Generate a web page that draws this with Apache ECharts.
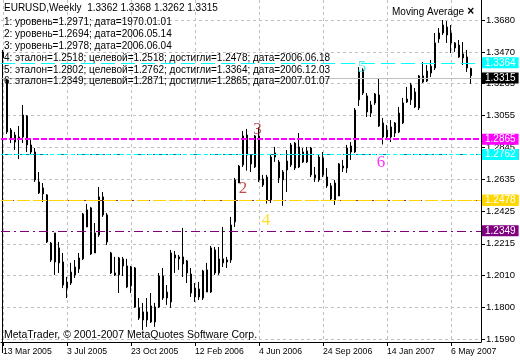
<!DOCTYPE html>
<html><head><meta charset="utf-8">
<script src="https://cdn.jsdelivr.net/npm/echarts@6/dist/echarts.min.js"></script>
<style>html,body{margin:0;padding:0;background:#fff}#c{width:520px;height:360px}</style>
</head><body><div id="c"></div>
<script>
// Weekly EURUSD bars, index 0 = week of 13 Mar 2005
const opens = [
1.3471,1.3287,1.2960,1.2881,1.2914,1.2914,1.3052,1.2862,1.2816,1.2620,
1.2541,1.2535,1.2220,1.2096,1.2188,1.2096,1.1925,1.1958,1.2011,1.2050,
1.2116,1.2325,1.2450,1.2155,1.2273,1.2522,1.2404,1.2155,1.2024,1.2011,
1.2116,1.2070,1.1939,1.2057,1.1795,1.1716,1.1769,1.1703,1.1703,1.1801,
1.2004,1.1899,1.1834,1.2142,1.2129,1.2129,1.2103,1.2017,1.1925,1.1919,
1.1860,1.2044,1.1899,1.2175,1.2024,1.2090,1.2109,1.2109,1.2358,1.2613,
1.2731,1.2927,1.2796,1.2718,1.2921,1.2600,1.2652,1.2502,1.2783,1.2751,
1.2633,1.2698,1.2862,1.2875,1.2849,1.2816,1.2751,1.2842,1.2666,1.2783,
1.2777,1.2652,1.2594,1.2502,1.2528,1.2724,1.2711,1.2855,1.2816,1.3157,
1.3353,1.3183,1.3071,1.3137,1.3189,1.3006,1.2914,1.2914,1.2940,1.2947,
1.3006,1.3143,1.3157,1.3209,1.3104,1.3314,1.3281,1.3333,1.3366,1.3556,
1.3595,1.3634,1.3595,1.3530,1.3516,1.3458,1.3438,1.3362];
const closes = [
1.3432,1.2947,1.2901,1.2927,1.2901,1.3058,1.2862,1.2816,1.2633,1.2548,
1.2581,1.2227,1.2109,1.2286,1.2090,1.1945,1.1965,1.2030,1.2063,1.2122,
1.2410,1.2437,1.2148,1.2286,1.2522,1.2404,1.2227,1.2024,1.2011,1.2122,
1.2070,1.1932,1.2063,1.1801,1.1729,1.1769,1.1716,1.1808,1.1801,1.2004,
1.1860,1.1860,1.2155,1.2122,1.2116,1.2083,1.2024,1.1893,1.1867,1.1867,
1.2037,1.1899,1.2188,1.2024,1.2116,1.2116,1.2096,1.2338,1.2633,1.2724,
1.2921,1.2796,1.2738,1.2921,1.2633,1.2639,1.2502,1.2783,1.2810,1.2646,
1.2685,1.2757,1.2731,1.2711,1.2718,1.2751,1.2823,1.2666,1.2646,1.2633,
1.2666,1.2594,1.2508,1.2613,1.2738,1.2711,1.2842,1.2816,1.3091,1.3340,
1.3202,1.3078,1.3124,1.3196,1.2986,1.2914,1.2960,1.2980,1.3006,1.3071,
1.3137,1.3163,1.3255,1.3111,1.3314,1.3274,1.3346,1.3378,1.3530,1.3595,
1.3647,1.3582,1.3530,1.3497,1.3438,1.3432,1.3366,1.3315];
const highs = [
1.3484,1.3300,1.2973,1.2947,1.2986,1.3124,1.3058,1.2895,1.2842,1.2685,
1.2613,1.2541,1.2227,1.2286,1.2227,1.2155,1.1998,1.2090,1.2109,1.2155,
1.2417,1.2476,1.2456,1.2351,1.2587,1.2554,1.2417,1.2162,1.2129,1.2129,
1.2129,1.2116,1.2070,1.2063,1.1860,1.1828,1.1860,1.1893,1.1828,1.2024,
1.2057,1.1945,1.2175,1.2168,1.2142,1.2319,1.2109,1.2057,1.1958,1.1965,
1.2044,1.2090,1.2201,1.2194,1.2194,1.2325,1.2129,1.2391,1.2646,1.2731,
1.2953,1.2967,1.2796,1.2927,1.2978,1.2666,1.2666,1.2796,1.2849,1.2764,
1.2698,1.2829,1.2875,1.2881,1.2940,1.2842,1.2849,1.2849,1.2718,1.2796,
1.2816,1.2711,1.2613,1.2633,1.2744,1.2764,1.2862,1.2881,1.3104,1.3372,
1.3364,1.3202,1.3150,1.3202,1.3300,1.3039,1.2993,1.3025,1.3012,1.3111,
1.3170,1.3242,1.3268,1.3235,1.3320,1.3405,1.3385,1.3418,1.3595,1.3628,
1.3680,1.3673,1.3647,1.3536,1.3549,1.3536,1.3484,1.3368];
const lows = [
1.1500,1.2934,1.2875,1.2829,1.2770,1.2875,1.2816,1.2796,1.2620,1.2541,
1.2489,1.2220,1.2096,1.2011,1.2024,1.1925,1.1860,1.1945,1.1991,1.2024,
1.2109,1.2325,1.2142,1.2155,1.2260,1.2391,1.2207,1.2017,1.2004,1.1893,
1.2004,1.1925,1.1893,1.1795,1.1716,1.1651,1.1671,1.1697,1.1671,1.1795,
1.1847,1.1815,1.1795,1.2024,1.2044,1.1998,1.1958,1.1867,1.1834,1.1847,
1.1847,1.1899,1.1893,1.2011,1.2011,1.2063,1.2057,1.2090,1.2325,1.2613,
1.2718,1.2694,1.2685,1.2711,1.2620,1.2587,1.2478,1.2482,1.2751,1.2613,
1.2463,1.2554,1.2718,1.2698,1.2711,1.2744,1.2744,1.2652,1.2620,1.2620,
1.2652,1.2581,1.2495,1.2469,1.2528,1.2685,1.2679,1.2764,1.2810,1.3117,
1.3189,1.3045,1.3045,1.3124,1.2980,1.2865,1.2895,1.2881,1.2914,1.2940,
1.2999,1.3137,1.3124,1.3104,1.3091,1.3268,1.3274,1.3307,1.3353,1.3530,
1.3582,1.3530,1.3464,1.3471,1.3432,1.3385,1.3340,1.3262];

const xTickIndex = [0,16,32,48,64,80,96,112];
const xTickLabels = ['13 Mar 2005','3 Jul 2005','23 Oct 2005','12 Feb 2006','4 Jun 2006','24 Sep 2006','14 Jan 2007','6 May 2007'];
const yTicks = [1.1590,1.1800,1.2010,1.2215,1.2425,1.2635,1.2845,1.3055,1.3265,1.3470,1.3680];

// horizontal level lines (drawn in this order)
const levelValues = [1.3315,1.3364,1.2865,1.2802,1.2762,1.2518,1.2518,1.2478,1.2349];
const levelLabels = ['1.3315','1.3364','1.2865','1.2802','1.2762','1.2518','','1.2478','1.2349'];
const levelColors = ['#c0c0c0','#00ffff','#ff00ff','#008080','#00ffff','#ffd700','#a52a2a','#ffd700','#800080'];
const levelBoxColors = ['#000000','#00ffff','#ff00ff','#008080','#00ffff','#ffd700','#ffd700','#ffd700','#800080'];
const levelDash = ['solid',[14,6],[6,2],[9,4,2,4],[4,3],[5,3],[2,6],[12,5],[9,4,2,4]];
const levelWidth = [1,1,2,1,1,1,1,1,1];

// wave point markers
const markNames = ['2','3','4','5','6'];
const markX = [60,63.6,65.75,89.75,94.5];
const markY = [1.2580,1.2960,1.2364,1.3366,1.2744];
const markColors = ['#b22222','#b22222','#ffd700','#40e0e0','#ff00ff'];

const comments = [
  'EURUSD,Weekly  1.3362 1.3368 1.3262 1.3315',
  '1: уровень=1.2971; дата=1970.01.01',
  '2: уровень=1.2694; дата=2006.05.14',
  '3: уровень=1.2978; дата=2006.06.04',
  '4: эталон=1.2518; целевой=1.2518; достигли=1.2478; дата=2006.06.18',
  '5: эталон=1.2802; целевой=1.2762; достигли=1.3364; дата=2006.12.03',
  '6: эталон=1.2349; целевой=1.2871; достигли=1.2865; дата=2007.01.07'
];

const FONT = '"Liberation Sans", Arial, sans-serif';
const chart = echarts.init(document.getElementById('c'), null, {renderer:'canvas'});

const candleData = opens.map((o,i)=>[i,o,closes[i],lows[i],highs[i]]);

const mlData = levelValues.map((v,k)=>({
  yAxis: v,
  lineStyle:{color:levelColors[k], type:levelDash[k], width:levelWidth[k], dashOffset: k===6?5:0},
  label: levelLabels[k] ? {show:true, position:'end', distance:1, formatter:levelLabels[k],
    color:'#fff', backgroundColor:levelBoxColors[k], padding:[1,3,0,3], fontSize:10, fontFamily:FONT, lineHeight:10} : {show:false}
}));

const commentGraphics = comments.map((t,k)=>({
  type:'text', x:4, y:[8,22,34,46,58,70,81][k],
  style:{text:t, font:'10px '+FONT, fill:'#000', verticalAlign:'middle'}, z:100
}));

chart.setOption({
  animation:false,
  backgroundColor:'#fff',
  grid:{left:1, right:39, top:0, bottom:18, containLabel:false},
  xAxis:[{
    type:'value', min:-0.5, max:119.5,
    axisLine:{show:true, onZero:false, lineStyle:{color:'#000', width:1}},
    axisTick:{show:true, length:4, customValues:xTickIndex, lineStyle:{color:'#000'}},
    axisLabel:{show:true, customValues:xTickIndex, align:'left', margin:5, fontSize:8.7, fontFamily:FONT, color:'#000',
      formatter:(v)=>xTickLabels[xTickIndex.indexOf(Math.round(v))] || ''},
    splitLine:{show:true, lineStyle:{color:'#c0c0c0', type:[3,3], width:1}}
  }],
  yAxis:[{
    type:'value', position:'right', min:1.1572, max:1.3811, scale:true,
    axisLine:{show:true, onZero:false, lineStyle:{color:'#000', width:1}},
    axisTick:{show:true, length:4, customValues:yTicks, lineStyle:{color:'#000'}},
    axisLabel:{show:true, customValues:yTicks, margin:5, fontSize:9.5, fontFamily:FONT, color:'#000',
      formatter:(v)=>v.toFixed(4)},
    splitLine:{show:true, lineStyle:{color:'#c0c0c0', type:[3,3], width:1}}
  }],
  series:[
    {
      type:'candlestick', data:candleData, encode:{x:0, y:[1,2,3,4]},
      barWidth:2, clip:true, silent:true,
      itemStyle:{color:'#fff', color0:'#000', borderColor:'#000', borderColor0:'#000', borderWidth:1},
      markLine:{silent:true, symbol:['none','none'], animation:false, data:mlData}
    },
    {
      type:'scatter', symbolSize:0, silent:true, z:5,
      data: markNames.map((n,k)=>({value:[markX[k], markY[k]], name:n,
        label:{show:true, position:'inside', formatter:n, color:markColors[k], fontSize:17, fontFamily:'"Liberation Serif", "Times New Roman", serif'}}))
    }
  ],
  graphic: commentGraphics.concat([
    {type:'text', x:392, y:12, style:{text:'Moving Average', font:'10px '+FONT, fill:'#000', verticalAlign:'middle'}, z:100},
    {type:'text', x:467, y:12, style:{text:'×', font:'bold italic 12px '+FONT, fill:'#000', verticalAlign:'middle'}, z:100},
    {type:'text', x:4, y:335, style:{text:'MetaTrader, © 2001-2007 MetaQuotes Software Corp.', font:'10.5px '+FONT, fill:'#000', verticalAlign:'middle'}, z:100}
  ])
});
</script></body></html>
